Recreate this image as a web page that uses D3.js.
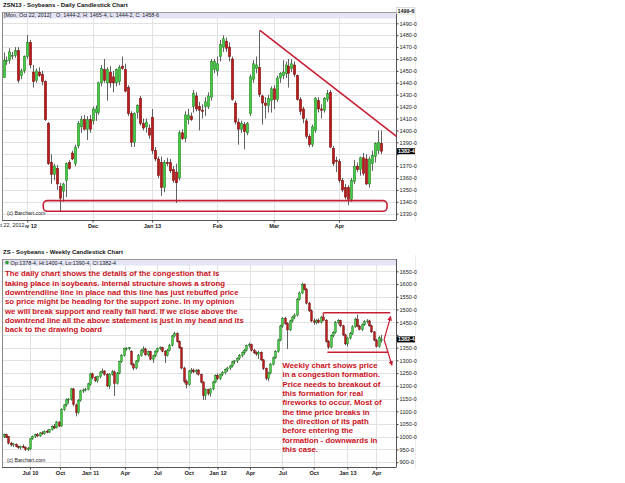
<!DOCTYPE html>
<html>
<head>
<meta charset="utf-8">
<script src="https://d3js.org/d3.v7.min.js"></script>
<style>
  body { margin: 0; background: #fff; }
  svg { display: block; font-family: "Liberation Sans", Arial, sans-serif; }
  .title { font-size: 6px; font-weight: bold; fill: #111; }
  .hdr { font-size: 5.4px; fill: #222; }
  .axis text { font-size: 5.6px; fill: #222; }
  .axis line { stroke: #444; }
  .axis path { display: none; }
  .xaxis text { font-weight: bold; }
  .note { font-size: 7.8px; font-weight: bold; fill: #cc1020; }
  .credit { font-size: 5.2px; fill: #222; }
</style>
</head>
<body>
<div id="chart"></div>
<script>
// daily candles, ZSN13, [open, high, low, close]
var daily = [
  [1444.25,1465.5,1444.25,1458.75],[1458,1462,1455,1459],[1459,1469,1456,1466],[1463,1466,1460,1463],
  [1463,1470,1461,1467],[1467,1470,1440,1442],[1446,1452,1443,1450],[1450,1463,1448,1462],
  [1462,1480,1460,1474],[1474,1476,1452,1455],[1449,1455,1436,1441],[1442,1452,1440,1450],
  [1449,1453,1445,1446],[1447,1450,1438,1441],[1441,1442,1408,1409],[1406,1407,1371,1372],
  [1373,1380,1355,1363],[1363,1372,1358,1370],[1368,1371,1350,1355],[1353,1356,1332,1343],
  [1349,1356,1340,1355],[1358,1373,1344,1372],[1373,1375,1367,1368],[1381,1383,1375,1376],
  [1372,1388,1370,1386],[1387,1408,1385,1406],[1403,1412,1398,1409],[1409,1413,1400,1401],
  [1401,1412,1392,1409],[1409,1413,1398,1401],[1408,1420,1405,1418],[1415,1421,1408,1418],
  [1415,1441,1413,1440],[1440,1455,1437,1452],[1451,1460,1440,1442],[1440,1453,1425,1451],
  [1449,1454,1436,1440],[1445,1450,1432,1440],[1440,1452,1437,1451],[1441,1455,1438,1453],
  [1454,1462,1451,1452],[1451,1456,1432,1433],[1436,1438,1412,1414],[1414,1416,1386,1390],
  [1390,1415,1386,1414],[1415,1422,1410,1421],[1427,1429,1404,1406],[1406,1410,1400,1402],
  [1403,1410,1398,1407],[1402,1405,1393,1396],[1411,1418,1380,1383],[1383,1386,1374,1376],
  [1376,1378,1360,1362],[1373,1378,1345,1352],[1352,1375,1348,1373],[1373,1377,1370,1372],
  [1373,1376,1364,1366],[1367,1370,1356,1358],[1365,1372,1339,1356],[1360,1400,1358,1398],
  [1398,1401,1392,1393],[1393,1416,1390,1413],[1409,1418,1405,1413],[1412,1415,1408,1409],
  [1420,1434,1415,1431],[1429,1432,1416,1418],[1420,1424,1400,1417],[1417,1422,1410,1416],
  [1420,1428,1412,1424],[1420,1432,1418,1429],[1428,1460,1425,1458],[1451,1460,1448,1458],
  [1450,1462,1446,1456],[1462,1476,1458,1472],[1470,1480,1466,1477],[1475,1478,1466,1469],
  [1470,1474,1458,1462],[1460,1462,1425,1426],[1423,1425,1405,1407],[1407,1410,1388,1401],
  [1401,1408,1398,1406],[1405,1407,1384,1399],[1398,1407,1396,1406],[1414,1447,1412,1445],
  [1443,1459,1440,1456],[1452,1462,1448,1455],[1453,1484,1428,1430],[1429,1430,1405,1423],
  [1423,1428,1410,1421],[1421,1430,1415,1427],[1425,1437,1415,1435],[1435,1438,1418,1426],
  [1426,1446,1424,1444],[1444,1449,1440,1448],[1446,1459,1443,1449],[1448,1458,1444,1455],
  [1454,1460,1436,1448],[1452,1460,1449,1456],[1455,1458,1445,1447],[1446,1447,1425,1426],
  [1426,1428,1413,1416],[1418,1420,1406,1410],[1408,1410,1393,1395],[1395,1397,1386,1388],
  [1388,1405,1386,1403],[1400,1428,1398,1427],[1425,1428,1415,1418],[1418,1422,1410,1417],
  [1417,1428,1415,1427],[1426,1434,1424,1431],[1432,1434,1385,1386],[1385,1387,1370,1372],
  [1375,1378,1365,1374],[1374,1376,1356,1358],[1358,1360,1348,1350],[1352,1355,1342,1344],
  [1352,1354,1337,1342],[1342,1360,1340,1358],[1357,1375,1355,1370],[1370,1373,1365,1367],
  [1367,1378,1362,1377],[1377,1381,1362,1364],[1376,1380,1354,1355],[1355,1378,1352,1376],
  [1372,1383,1366,1379],[1378,1390,1373,1389],[1383,1400,1380,1390],[1389,1400,1380,1382.5]
];
var dailyTickIdx = [8, 30, 50, 72, 91, 113];
var dailyTickLab = ['Nov 12', 'Dec', 'Jan 13', 'Feb', 'Mar', 'Apr'];
var dailyPrices = [1330,1340,1350,1360,1370,1380,1390,1400,1410,1420,1430,1440,1450,1460,1470,1480,1490];
var dailyTrend = [[86.4, 1484], [132.4, 1395]];      // [index, price]
var dailySupport = [13.4, 129.2, 1332, 1341];         // from, to, low, high

// weekly candles, ZS, [open, high, low, close]
var weekly = [
  [1000,1012,995,1008],[1008,1012,995,998],[1000,1003,970,975],[975,980,962,968],
  [968,975,960,972],[970,974,958,962],[962,966,952,958],[958,965,950,962],
  [962,970,955,957],[957,962,945,950],[950,960,944,955],[952,995,948,992],
  [992,1005,988,1002],[1002,1012,995,1008],[1008,1015,1000,1003],[1003,1018,1000,1015],
  [1015,1022,1008,1012],[1012,1025,1008,1022],[1022,1028,1014,1018],[1018,1030,1015,1028],
  [1028,1045,1025,1040],[1040,1050,1030,1035],[1035,1062,1032,1058],[1058,1060,1038,1042],
  [1042,1112,1040,1108],[1108,1128,1102,1125],[1125,1150,1118,1145],[1145,1152,1130,1148],
  [1148,1192,1142,1188],[1188,1192,1120,1128],[1125,1130,1080,1095],[1095,1148,1090,1143],
  [1143,1185,1138,1180],[1180,1190,1172,1183],[1183,1192,1178,1186],[1186,1212,1182,1208],
  [1205,1250,1200,1247],[1247,1252,1225,1232],[1232,1238,1215,1220],[1220,1240,1212,1236],
  [1236,1258,1230,1254],[1254,1268,1248,1258],[1258,1262,1240,1245],[1245,1250,1195,1200],
  [1200,1250,1188,1246],[1246,1262,1240,1255],[1255,1260,1160,1210],[1210,1255,1205,1250],
  [1250,1298,1245,1295],[1295,1325,1290,1320],[1320,1350,1315,1346],[1346,1352,1338,1348],
  [1348,1352,1340,1350],[1335,1340,1280,1285],[1285,1290,1262,1270],[1270,1302,1265,1298],
  [1298,1325,1292,1320],[1320,1345,1315,1340],[1340,1355,1330,1345],[1345,1350,1318,1322],
  [1322,1338,1315,1334],[1334,1338,1300,1305],[1305,1322,1290,1318],[1318,1340,1312,1336],
  [1336,1350,1330,1346],[1346,1355,1340,1350],[1350,1354,1332,1336],[1336,1340,1290,1320],
  [1320,1345,1315,1340],[1340,1365,1335,1360],[1360,1400,1355,1396],[1396,1412,1390,1405],
  [1405,1410,1370,1375],[1375,1378,1345,1350],[1350,1352,1265,1270],[1270,1275,1210,1218],
  [1218,1225,1190,1205],[1205,1262,1200,1258],[1258,1270,1248,1262],[1262,1268,1250,1255],
  [1255,1265,1245,1262],[1262,1266,1240,1245],[1245,1248,1210,1215],[1215,1218,1144,1162],
  [1162,1190,1145,1185],[1185,1188,1162,1170],[1170,1192,1158,1188],[1188,1220,1182,1215],
  [1215,1245,1210,1240],[1240,1248,1222,1228],[1228,1248,1222,1244],[1244,1258,1238,1252],
  [1252,1268,1245,1264],[1264,1275,1255,1270],[1270,1282,1262,1278],[1278,1298,1272,1294],
  [1294,1302,1285,1298],[1298,1312,1290,1308],[1308,1325,1302,1320],[1320,1335,1312,1330],
  [1330,1345,1322,1340],[1340,1362,1335,1358],[1358,1370,1350,1362],[1362,1366,1335,1340],
  [1340,1345,1325,1330],[1330,1336,1318,1325],[1325,1338,1305,1332],[1332,1335,1298,1302],
  [1302,1305,1262,1268],[1268,1272,1222,1230],[1230,1255,1218,1250],[1250,1290,1245,1285],
  [1285,1315,1280,1310],[1310,1340,1305,1335],[1335,1385,1330,1380],[1380,1440,1375,1435],
  [1435,1470,1428,1465],[1465,1472,1440,1445],[1445,1450,1345,1420],[1420,1460,1415,1455],
  [1455,1475,1448,1470],[1470,1485,1462,1478],[1478,1545,1472,1540],[1540,1570,1535,1565],
  [1565,1605,1560,1598],[1598,1602,1575,1580],[1580,1585,1520,1525],[1525,1530,1490,1495],
  [1495,1500,1450,1455],[1455,1465,1440,1450],[1450,1462,1442,1458],[1458,1465,1445,1450],
  [1450,1475,1445,1470],[1470,1480,1455,1458],[1458,1462,1370,1375],[1375,1380,1345,1352],
  [1352,1402,1348,1398],[1398,1415,1390,1410],[1410,1455,1405,1450],[1450,1462,1442,1456],
  [1456,1460,1430,1436],[1436,1440,1395,1400],[1400,1405,1360,1365],[1365,1392,1355,1388],
  [1388,1412,1382,1405],[1405,1438,1400,1432],[1432,1468,1428,1462],[1462,1480,1430,1435],
  [1435,1440,1418,1422],[1422,1445,1415,1440],[1440,1458,1435,1452],[1452,1462,1445,1455],
  [1455,1460,1432,1436],[1436,1440,1408,1412],[1412,1415,1375,1380],[1380,1385,1350,1355],
  [1355,1395,1350,1390],[1378.5,1400.5,1370,1382.5]
];
var weeklyTickIdx = [11, 23.5, 36, 50.5, 64, 77, 89, 102.5, 116, 129, 143, 155];
var weeklyTickLab = ['Jul 10', 'Oct', 'Jan 11', 'Apr', 'Jul', 'Oct', 'Jan 12', 'Apr', 'Jul', 'Oct', 'Jan 13', 'Apr'];
var weeklyPrices = [900,950,1000,1050,1100,1150,1200,1250,1300,1350,1400,1450,1500,1550,1600,1650];
var weeklyBoxTop = [133, 160.8, 1487];
var weeklyBoxBottom = [134.7, 160, 1332];
var weeklyArrows = [[158.3, 1382], [161, 1472], [161.5, 1282]]; // apex, up tip, down tip

var noteDaily = [
  'The daily chart shows the details of the congestion that is',
  'taking place in soybeans. Internal structure shows a strong',
  'downtrendline line in place nad this line has just rebuffed price',
  'so price might be heading for the support zone. In my opinion',
  'we will break support and really fall hard. If we close above the',
  'downtrend line all the above statement is just in my head and its',
  'back to the drawing board'
];
var noteWeekly = [
  'Weekly chart shows price',
  'in a congestion formation.',
  'Price needs to breakout of',
  'this formation for real',
  'fireworks to occur. Most of',
  'the time price breaks in',
  'the direction of its path',
  'before entering the',
  'formation - downwards in',
  'this case.'
];

var W = 625, H = 483;
var RED = '#c81e34';
var svg = d3.select('#chart').append('svg').attr('width', W).attr('height', H);

svg.append('defs').append('marker')
  .attr('id', 'arr').attr('viewBox', '0 0 10 10').attr('refX', 8).attr('refY', 5)
  .attr('markerWidth', 4).attr('markerHeight', 4).attr('orient', 'auto')
  .append('path').attr('d', 'M0,0 L10,5 L0,10 z').attr('fill', RED);

function drawPanel(p) {
  var g = svg.append('g');
  var left = 2, right = 396;
  var x = d3.scaleLinear().domain([0, p.data.length - 1]).range(p.xRange);
  var y = d3.scaleLinear().domain(p.yDomain).range(p.yRange);
  var last = p.data[p.data.length - 1][3];

  g.append('text').attr('class', 'title').attr('x', 3).attr('y', p.top - 5).text(p.title);

  // gridlines
  g.append('g').selectAll('line').data(p.prices).enter().append('line')
    .attr('x1', left).attr('x2', right)
    .attr('y1', function(d) { return Math.round(y(d)) + 0.5; })
    .attr('y2', function(d) { return Math.round(y(d)) + 0.5; })
    .attr('stroke', '#e2e2e2');
  g.append('g').selectAll('line').data(p.ticks).enter().append('line')
    .attr('x1', function(d) { return Math.round(x(d)) + 0.5; })
    .attr('x2', function(d) { return Math.round(x(d)) + 0.5; })
    .attr('y1', p.top).attr('y2', p.bottom)
    .attr('stroke', '#e2e2e2');

  // header bar
  g.append('rect').attr('x', left).attr('y', p.top).attr('width', right - left).attr('height', 6.5)
    .attr('fill', '#e4e4f6');
  g.append('line').attr('x1', left).attr('x2', right).attr('y1', p.top + 0.5).attr('y2', p.top + 0.5)
    .attr('stroke', '#9a9a9a');

  // candles
  var c = g.append('g').selectAll('g').data(p.data).enter().append('g');
  c.append('line')
    .attr('x1', function(d, i) { return Math.round(x(i)) + 0.5; })
    .attr('x2', function(d, i) { return Math.round(x(i)) + 0.5; })
    .attr('y1', function(d) { return y(d[1]); })
    .attr('y2', function(d) { return y(d[2]); })
    .attr('stroke', '#3a3a3a').attr('stroke-width', 0.8);
  c.append('rect')
    .attr('x', function(d, i) { return Math.round(x(i)) + 0.5 - p.bodyW / 2; })
    .attr('y', function(d) { return y(Math.max(d[0], d[3])); })
    .attr('width', p.bodyW)
    .attr('height', function(d) { return Math.max(0.8, Math.abs(y(d[0]) - y(d[3]))); })
    .attr('fill', function(d) { return d[3] >= d[0] ? '#44cc44' : '#be1a1a'; })
    .attr('stroke', function(d) { return d[3] >= d[0] ? '#1e7a1e' : '#6e0b0b'; })
    .attr('stroke-width', 0.5);

  // frame
  g.append('line').attr('x1', left + 0.5).attr('x2', left + 0.5).attr('y1', p.top).attr('y2', p.bottom)
    .attr('stroke', '#8a8a8a');
  g.append('line').attr('x1', right + 0.5).attr('x2', right + 0.5).attr('y1', p.top).attr('y2', p.bottom + 0.5)
    .attr('stroke', '#555');
  g.append('line').attr('x1', left).attr('x2', right).attr('y1', p.bottom + 0.5).attr('y2', p.bottom + 0.5)
    .attr('stroke', '#555');
  g.append('line').attr('x1', 415.5).attr('x2', 415.5).attr('y1', p.top - 4).attr('y2', p.bottom + 2)
    .attr('stroke', '#ececec');

  // axes; the price label hidden under the last-price box is left out
  g.append('g').attr('class', 'axis').attr('transform', 'translate(' + (right + 0.5) + ',0)')
    .call(d3.axisRight(y).tickValues(p.prices).tickSize(2).tickPadding(1)
      .tickFormat(function(d) { return Math.abs(y(d) - y(last)) < 6 ? '' : d + '-0'; }));
  g.append('g').attr('class', 'axis xaxis').attr('transform', 'translate(0,' + (p.bottom + 0.5) + ')')
    .call(d3.axisBottom(x).tickValues(p.ticks).tickSize(2).tickPadding(1.5)
      .tickFormat(function(d, i) { return p.labels[i]; }));

  g.append('text').attr('class', 'credit').attr('x', 7).attr('y', p.bottom - 5).text('(c) Barchart.com');

  // last price box
  g.append('rect').attr('x', right + 1).attr('y', y(last) - 3).attr('width', 18).attr('height', 6).attr('fill', '#000');
  g.append('text').attr('x', right + 2).attr('y', y(last) + 2).attr('fill', '#fff')
    .style('font-size', '5.4px').style('font-weight', 'bold').text('1382-4');

  return { g: g, x: x, y: y };
}

// ---- daily panel
var d = drawPanel({
  data: daily, title: 'ZSN13 - Soybeans - Daily Candlestick Chart',
  top: 12, bottom: 220, xRange: [3.5, 380.5], yDomain: [1330, 1490], yRange: [213.7, 23.3],
  prices: dailyPrices, ticks: dailyTickIdx, labels: dailyTickLab, bodyW: 2.3
});
d.g.append('text').attr('class', 'hdr').attr('x', 4).attr('y', 17.3).text('[Mon, Oct 22, 2012]');
d.g.append('text').attr('class', 'hdr').attr('x', 56).attr('y', 17.3).text('O: 1444-2, H: 1465-4, L: 1444-2, C: 1458-6');
d.g.append('rect').attr('x', 396.5).attr('y', 7.5).attr('width', 18).attr('height', 6.5)
  .attr('fill', '#fff').attr('stroke', '#bbb').attr('stroke-width', 0.5);
d.g.append('text').attr('x', 397.5).attr('y', 12.8).style('font-size', '5.4px').style('font-weight', 'bold')
  .attr('fill', '#111').text('1499-6');
// first-date label over the axis, as the reference shows it
d.g.append('rect').attr('x', 0).attr('y', 221.5).attr('width', 25).attr('height', 7).attr('fill', '#fff');
d.g.append('text').attr('x', 24.5).attr('y', 227.3).attr('text-anchor', 'end')
  .style('font-size', '5.4px').attr('fill', '#222').text('Oct 22, 2012');

d.g.append('rect')
  .attr('x', d.x(dailySupport[0])).attr('y', d.y(dailySupport[3]))
  .attr('width', d.x(dailySupport[1]) - d.x(dailySupport[0]))
  .attr('height', d.y(dailySupport[2]) - d.y(dailySupport[3]))
  .attr('rx', 4).attr('fill', 'none').attr('stroke', RED).attr('stroke-width', 1.6);
d.g.append('line')
  .attr('x1', d.x(dailyTrend[0][0])).attr('y1', d.y(dailyTrend[0][1]))
  .attr('x2', d.x(dailyTrend[1][0])).attr('y2', d.y(dailyTrend[1][1]))
  .attr('stroke', RED).attr('stroke-width', 1.6);

// ---- weekly panel
var w = drawPanel({
  data: weekly, title: 'ZS - Soybeans - Weekly Candlestick Chart',
  top: 259, bottom: 467, xRange: [3.5, 381], yDomain: [900, 1650], yRange: [462.2, 271.3],
  prices: weeklyPrices, ticks: weeklyTickIdx, labels: weeklyTickLab, bodyW: 1.7
});
w.g.append('circle').attr('cx', 7).attr('cy', 262.6).attr('r', 1.8).attr('fill', '#2e9e2e');
w.g.append('text').attr('class', 'hdr').attr('x', 10.5).attr('y', 264.6).text('Op:1378-4, Hi:1400-4, Lo:1390-4, Cl:1382-4');

w.g.append('line')
  .attr('x1', w.x(weeklyBoxTop[0])).attr('x2', w.x(weeklyBoxTop[1]))
  .attr('y1', w.y(weeklyBoxTop[2])).attr('y2', w.y(weeklyBoxTop[2]))
  .attr('stroke', RED).attr('stroke-width', 1.4);
w.g.append('line')
  .attr('x1', w.x(weeklyBoxTop[0])).attr('x2', w.x(weeklyBoxTop[0]))
  .attr('y1', w.y(weeklyBoxTop[2])).attr('y2', w.y(weeklyBoxTop[2]) + 8)
  .attr('stroke', RED).attr('stroke-width', 1.2);
w.g.append('line')
  .attr('x1', w.x(weeklyBoxBottom[0])).attr('x2', w.x(weeklyBoxBottom[1]))
  .attr('y1', w.y(weeklyBoxBottom[2])).attr('y2', w.y(weeklyBoxBottom[2]))
  .attr('stroke', RED).attr('stroke-width', 1.4);
[1, 2].forEach(function(k) {
  w.g.append('line')
    .attr('x1', w.x(weeklyArrows[0][0])).attr('y1', w.y(weeklyArrows[0][1]))
    .attr('x2', w.x(weeklyArrows[k][0])).attr('y2', w.y(weeklyArrows[k][1]))
    .attr('stroke', RED).attr('stroke-width', 1.2).attr('marker-end', 'url(#arr)');
});

// ---- notes
svg.append('g').selectAll('text').data(noteDaily).enter().append('text')
  .attr('class', 'note').attr('x', 5).attr('y', function(t, i) { return 276.3 + i * 9.33; }).text(function(t) { return t; });
svg.append('g').selectAll('text').data(noteWeekly).enter().append('text')
  .attr('class', 'note').attr('x', 282.5).attr('y', function(t, i) { return 368 + i * 9.33; }).text(function(t) { return t; });
</script>
</body>
</html>
